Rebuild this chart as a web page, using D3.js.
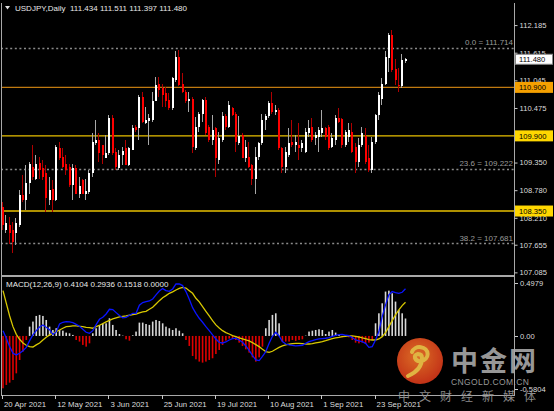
<!DOCTYPE html>
<html><head><meta charset="utf-8">
<script src="https://cdn.jsdelivr.net/npm/d3@7"></script>
<style>html,body{margin:0;padding:0;background:#000;}svg{display:block;}</style>
</head><body>
<svg id="c" width="554" height="411"></svg>
<script>
// ---- data (USDJPY daily, 20 Apr 2021 – 6 Oct 2021) ----
const open = [108.44,107.96,108.06,107.96,107.89,108.06,108.68,108.58,108.92,109.26,109.02,109.35,109.23,109.13,108.58,108.80,108.58,109.66,109.47,109.33,109.26,108.89,109.23,108.71,108.99,108.71,108.75,109.13,109.75,109.81,109.71,109.44,109.54,110.26,109.57,109.23,109.51,109.64,109.30,109.61,110.08,110.06,110.71,110.17,110.21,110.23,110.61,110.98,110.88,110.78,110.64,110.47,111.05,111.53,110.98,110.81,110.61,110.67,109.64,110.09,110.36,110.63,110.09,109.81,110.06,109.40,109.81,110.30,110.09,110.47,110.36,109.75,109.92,109.44,109.47,109.30,109.02,109.47,109.75,110.23,110.30,110.57,110.40,110.43,109.64,109.26,109.51,109.78,109.71,109.71,109.64,109.57,109.95,110.08,109.85,109.88,109.95,110.06,110.09,109.68,109.81,110.26,110.24,109.71,109.88,109.99,109.68,109.37,109.71,109.90,109.44,109.20,109.78,110.33,110.67,110.98,111.50,111.97,111.28,110.95,110.92,111.434];
const high = [108.54,108.27,108.23,108.13,108.20,108.78,109.09,109.30,109.37,109.71,109.51,109.47,109.40,109.30,109.06,108.99,109.71,109.78,109.64,109.51,109.33,109.33,109.30,109.06,109.02,109.02,109.20,109.95,110.23,109.95,109.71,109.92,110.33,110.33,109.64,109.61,109.68,109.81,109.68,110.12,110.12,110.74,110.81,110.50,110.36,110.81,111.12,111.12,110.98,110.91,110.78,111.12,111.66,111.67,111.19,110.85,110.81,110.71,110.28,110.40,110.67,110.71,110.12,110.33,110.09,109.99,110.40,110.36,110.61,110.50,110.40,110.30,109.95,109.81,109.78,109.33,109.68,109.78,110.36,110.36,110.61,110.81,110.54,110.47,109.68,109.68,110.06,110.23,109.92,110.16,109.81,110.06,110.23,110.26,109.99,110.09,110.43,110.09,110.12,109.95,110.33,110.47,110.26,110.02,110.16,110.16,109.75,109.85,110.09,110.06,109.71,109.88,110.36,110.81,111.09,111.64,112.03,112.08,111.48,111.30,111.58,111.511];
const low = [107.96,107.89,107.68,107.48,107.65,108.03,108.54,108.37,108.71,108.99,108.99,109.02,108.99,108.34,108.47,108.34,108.56,109.40,109.23,109.09,108.85,108.58,108.71,108.61,108.70,108.58,108.71,109.06,109.71,109.37,109.33,109.44,109.51,109.51,109.20,109.20,109.30,109.30,109.28,109.61,109.99,109.81,110.17,110.14,109.71,110.19,110.61,110.71,110.50,110.50,110.43,110.43,111.02,110.93,110.78,110.57,110.40,109.54,109.61,109.99,110.19,109.92,109.78,109.71,109.06,109.33,109.78,110.02,110.06,110.30,109.57,109.71,109.44,109.37,109.23,108.89,108.71,109.40,109.71,110.02,110.26,110.36,110.33,109.61,109.13,109.13,109.47,109.68,109.57,109.40,109.57,109.54,109.88,109.78,109.71,109.57,109.88,109.81,109.61,109.64,109.71,110.16,109.64,109.68,109.78,109.54,109.13,109.26,109.68,109.33,109.16,109.13,109.73,110.23,110.54,110.95,111.22,111.22,110.95,110.81,110.88,111.397];
const close = [108.06,108.10,107.89,107.72,108.10,108.68,108.58,108.92,109.33,109.06,109.33,109.20,109.06,108.61,108.78,108.58,109.68,109.44,109.26,109.20,108.89,109.23,108.71,108.87,108.71,108.77,109.13,109.78,109.81,109.54,109.51,109.54,110.26,109.54,109.26,109.51,109.59,109.30,109.64,110.06,110.02,110.71,110.19,110.23,110.26,110.61,110.95,110.85,110.74,110.61,110.47,111.09,111.53,110.95,110.81,110.61,110.67,109.68,110.09,110.36,110.64,109.95,109.81,110.02,109.44,109.85,110.30,110.09,110.54,110.33,109.78,109.90,109.44,109.68,109.26,109.02,109.47,109.75,110.23,110.30,110.57,110.40,110.43,109.64,109.26,109.57,109.75,109.71,109.78,109.64,109.75,109.99,110.06,109.81,109.92,110.02,110.06,109.88,109.64,109.85,110.26,110.19,109.71,109.99,110.02,109.57,109.37,109.71,109.95,109.37,109.20,109.78,110.33,110.74,110.98,111.53,111.97,111.26,111.05,110.92,111.46,111.480];
const macdMain = [0.046,-0.020,-0.093,-0.151,-0.165,-0.151,-0.128,-0.099,-0.041,0.009,0.046,0.078,0.096,0.075,0.055,0.014,0.035,0.104,0.119,0.125,0.122,0.116,0.101,0.084,0.058,0.032,0.023,0.046,0.099,0.145,0.162,0.191,0.232,0.229,0.203,0.177,0.157,0.162,0.180,0.197,0.197,0.267,0.290,0.299,0.304,0.322,0.357,0.391,0.412,0.394,0.388,0.409,0.452,0.452,0.438,0.386,0.319,0.246,0.197,0.154,0.119,0.081,0.046,0.009,-0.026,-0.055,-0.061,-0.052,-0.035,-0.023,-0.020,-0.035,-0.055,-0.087,-0.125,-0.168,-0.209,-0.214,-0.177,-0.136,-0.064,-0.003,0.032,0.000,-0.049,-0.070,-0.078,-0.081,-0.087,-0.084,-0.081,-0.064,-0.049,-0.041,-0.032,-0.026,-0.023,-0.020,-0.014,-0.003,0.006,0.012,0.014,0.006,0.003,-0.014,-0.035,-0.043,-0.049,-0.064,-0.099,-0.093,-0.035,0.038,0.168,0.270,0.357,0.386,0.377,0.371,0.380,0.4104];
const macdSignal = [0.394,0.284,0.174,0.081,0.014,-0.029,-0.061,-0.081,-0.093,-0.096,-0.078,-0.061,-0.035,-0.012,0.009,0.023,0.038,0.052,0.067,0.081,0.084,0.087,0.087,0.084,0.081,0.075,0.072,0.067,0.081,0.093,0.107,0.122,0.136,0.148,0.157,0.165,0.171,0.174,0.180,0.186,0.191,0.200,0.209,0.214,0.232,0.249,0.278,0.307,0.333,0.351,0.371,0.383,0.400,0.414,0.423,0.417,0.394,0.371,0.328,0.296,0.255,0.214,0.174,0.133,0.096,0.070,0.046,0.029,0.017,0.003,-0.006,-0.017,-0.026,-0.035,-0.043,-0.058,-0.075,-0.093,-0.116,-0.136,-0.142,-0.133,-0.116,-0.099,-0.087,-0.078,-0.072,-0.067,-0.064,-0.064,-0.067,-0.070,-0.070,-0.067,-0.061,-0.055,-0.049,-0.041,-0.032,-0.023,-0.017,-0.012,-0.006,-0.003,0.000,0.000,-0.003,-0.009,-0.017,-0.023,-0.032,-0.035,-0.035,-0.026,-0.006,0.029,0.081,0.133,0.183,0.226,0.264,0.2936];
const macdHist = [-0.455,-0.426,-0.406,-0.383,-0.325,-0.209,-0.136,-0.035,0.081,0.125,0.174,0.183,0.174,0.139,0.081,0.052,0.067,0.052,0.046,0.029,0.023,0.009,-0.035,-0.049,-0.078,-0.093,-0.064,0.023,0.067,0.096,0.110,0.110,0.154,0.096,0.052,0.017,0.003,-0.029,-0.041,0.006,0.038,0.116,0.116,0.104,0.096,0.125,0.139,0.130,0.110,0.081,0.067,0.052,0.067,0.046,0.023,-0.035,-0.087,-0.174,-0.203,-0.223,-0.232,-0.223,-0.209,-0.194,-0.157,-0.122,-0.078,-0.041,-0.023,-0.023,-0.035,-0.058,-0.087,-0.116,-0.145,-0.186,-0.223,-0.186,-0.093,0.067,0.139,0.183,0.197,0.110,-0.049,-0.049,-0.049,-0.035,-0.043,-0.035,-0.029,0.003,0.038,0.046,0.052,0.058,0.052,0.017,0.038,0.052,0.029,0.009,-0.012,0.006,-0.012,-0.035,-0.058,-0.064,-0.058,-0.070,-0.058,-0.035,0.110,0.197,0.284,0.386,0.394,0.371,0.299,0.226,0.197,0.1518];
const priceTicks = [112.185,111.615,111.045,110.475,109.350,108.780,108.210,107.655,107.085];
const levelValues = [110.900,109.900,108.350];
const levelColors = ["#c07a10","#e8c000","#e8c000"];
const levelBoxColors = ["#f5a000","#ffd700","#ffd700"];
const fibValues = [111.714,109.222,107.681];
const fibNames = ["0.0","23.6","38.2"];
const macdTicks = [0.4979,0.0,-0.5804];
const lastPrice = 111.480;
const dateTickEvery = 16;

// ---- layout ----
const svg = d3.select("#c");
const W = 554, H = 411;
const plotL = 1, plotR = 514;
const mainTop = 0, mainBot = 275;
const macdTop = 277, macdBot = 395;
const font = "'Liberation Sans', Arial, sans-serif";

svg.append("rect").attr("width", W).attr("height", H).attr("fill", "#000");

const n = close.length;
const dates = d3.utcDay.range(new Date(Date.UTC(2021,3,20)), new Date(Date.UTC(2021,9,7)))
  .filter(d => d.getUTCDay() !== 0 && d.getUTCDay() !== 6);
const idx = d3.range(n);

const x = d3.scaleLinear().domain([0, n - 1]).range([3, 405.5]);
const y = d3.scaleLinear().domain([107.085, 112.185]).range([272.37, 25.07]);
const ym = d3.scaleLinear().domain([-0.5804, 0.4979]).range([402.7, 278.7]);

const defs = svg.append("defs");
defs.append("clipPath").attr("id","clipMain").append("rect")
  .attr("x", plotL+1).attr("y", mainTop).attr("width", plotR-plotL-1).attr("height", mainBot-mainTop-1);
defs.append("clipPath").attr("id","clipMacd").append("rect")
  .attr("x", plotL+1).attr("y", macdTop+1).attr("width", plotR-plotL-1).attr("height", macdBot-macdTop-1);

// ---- main panel ----
const gMain = svg.append("g").attr("clip-path","url(#clipMain)");

gMain.selectAll("line.fib").data(fibValues).join("line")
  .attr("x1", plotL).attr("x2", plotR)
  .attr("y1", d => Math.round(y(d)) + 0.5).attr("y2", d => Math.round(y(d)) + 0.5)
  .attr("stroke", "#8a8a8a").attr("stroke-width", 1.3).attr("stroke-dasharray", "2,2.6");

gMain.selectAll("line.lvl").data(levelValues).join("line")
  .attr("x1", plotL).attr("x2", plotR)
  .attr("y1", d => y(d)).attr("y2", d => y(d))
  .attr("stroke", (d,i) => levelColors[i]).attr("stroke-width", 1.4);

const gC = gMain.append("g").attr("shape-rendering","crispEdges");
gC.selectAll("line.wick").data(idx).join("line")
  .attr("x1", i => Math.round(x(i)) - 0.5).attr("x2", i => Math.round(x(i)) - 0.5)
  .attr("y1", i => y(high[i])).attr("y2", i => y(low[i]))
  .attr("stroke", i => close[i] >= open[i] ? "#a8a8a8" : "#b00000").attr("stroke-width", 1);
gC.selectAll("rect.body").data(idx).join("rect")
  .attr("x", i => Math.round(x(i)) - 1).attr("width", 2)
  .attr("y", i => y(Math.max(open[i], close[i])))
  .attr("height", i => Math.max(1, Math.abs(y(open[i]) - y(close[i]))))
  .attr("fill", i => close[i] >= open[i] ? "#ffffff" : "#ff0000");

svg.selectAll("text.fib").data(fibValues).join("text")
  .attr("x", plotR - 1).attr("y", d => y(d) - 2.5)
  .attr("text-anchor", "end").attr("font-family", font).attr("font-size", 8)
  .attr("fill", "#9a9a9a")
  .text((d,i) => `${fibNames[i]} = ${d.toFixed(3)}`);

// ---- MACD panel ----
const gM = svg.append("g").attr("clip-path","url(#clipMacd)");
gM.append("g").selectAll("rect").data(idx).join("rect")
  .attr("x", i => x(i) - 0.8).attr("width", 1.6)
  .attr("y", i => Math.min(ym(0), ym(macdHist[i])))
  .attr("height", i => Math.abs(ym(macdHist[i]) - ym(0)))
  .attr("fill", i => macdHist[i] >= 0 ? "#d8d8d8" : "#e00000");
const line = arr => d3.line().x(i => x(i)).y(i => ym(arr[i])).curve(d3.curveLinear)(idx);
gM.append("path").attr("d", line(macdSignal)).attr("fill","none").attr("stroke","#d8c800").attr("stroke-width",1.3);
gM.append("path").attr("d", line(macdMain)).attr("fill","none").attr("stroke","#0a14ff").attr("stroke-width",1.3);

svg.append("text").attr("x", 6).attr("y", 287).attr("font-family", font).attr("font-size", 8)
  .attr("fill", "#e8e8e8").text(`MACD(12,26,9) ${macdMain[n-1].toFixed(4)} ${macdSignal[n-1].toFixed(4)} ${macdHist[n-1].toFixed(4)} 0.0000`);

// ---- frames ----
const frame = svg.append("g").attr("stroke", "#a8a8a8").attr("shape-rendering","crispEdges");
frame.append("line").attr("x1", 1.5).attr("x2", 1.5).attr("y1", 3).attr("y2", macdBot).attr("stroke-width", 1.5);
frame.append("line").attr("x1", plotR + 0.5).attr("x2", plotR + 0.5).attr("y1", 3).attr("y2", macdBot + 1);
frame.append("line").attr("x1", 1).attr("x2", plotR + 1).attr("y1", mainBot + 0.5).attr("y2", mainBot + 0.5).attr("stroke-width", 2);
frame.append("line").attr("x1", 1).attr("x2", plotR + 1).attr("y1", macdBot + 0.5).attr("y2", macdBot + 0.5);

// ---- price axis ----
const axisY = d3.axisRight(y).tickValues(priceTicks).tickFormat(d3.format(".3f")).tickSize(3).tickPadding(2);
const ga = svg.append("g").attr("transform", `translate(${plotR + 0.5},0)`).call(axisY);
ga.select(".domain").remove();
ga.selectAll("line").attr("stroke", "#c8c8c8");
ga.selectAll("text").attr("fill", "#dcdcdc").attr("font-family", font).attr("font-size", 7.6);

const boxes = svg.selectAll("g.box").data(levelValues).join("g").attr("transform", d => `translate(${plotR + 1},${y(d)})`);
boxes.append("rect").attr("x", 0).attr("y", -5.5).attr("width", 38).attr("height", 11)
  .attr("fill", (d,i) => levelBoxColors[i]);
boxes.append("text").attr("x", 4).attr("y", 3).attr("font-family", font).attr("font-size", 7.6)
  .attr("fill", "#000").text(d => d.toFixed(3));
const lp = svg.append("g").attr("transform", `translate(${plotR + 1},${y(lastPrice)})`);
lp.append("rect").attr("x", 0.5).attr("y", -5).attr("width", 37).attr("height", 10)
  .attr("fill", "#fff").attr("stroke", "#888");
lp.append("text").attr("x", 4).attr("y", 3).attr("font-family", font).attr("font-size", 7.6)
  .attr("fill", "#000").text(lastPrice.toFixed(3));

// ---- MACD axis ----
const macdPos = d => Math.max(macdTop + 6, Math.min(macdBot - 6, ym(d)));
const gm = svg.append("g");
gm.selectAll("line").data(macdTicks).join("line")
  .attr("x1", plotR + 1).attr("x2", plotR + 4).attr("y1", d => Math.round(macdPos(d)) + 0.5).attr("y2", d => Math.round(macdPos(d)) + 0.5)
  .attr("stroke", "#c8c8c8");
gm.selectAll("text").data(macdTicks).join("text")
  .attr("x", plotR + 6).attr("y", d => macdPos(d) + 2.8)
  .attr("font-family", font).attr("font-size", 7.6).attr("fill", "#dcdcdc")
  .text(d => d === 0 ? "0.00" : d.toFixed(4));

// ---- date axis ----
const fmt = d3.utcFormat("%-d %b %Y");
const tickIdx = idx.filter(i => i % dateTickEvery === 0);
const gx = svg.append("g");
gx.selectAll("line").data(tickIdx).join("line")
  .attr("x1", i => Math.round(x(i)) - 0.5).attr("x2", i => Math.round(x(i)) - 0.5)
  .attr("y1", macdBot).attr("y2", macdBot + 4).attr("stroke", "#c8c8c8");
gx.selectAll("text").data(tickIdx).join("text")
  .attr("x", i => x(i) + 1).attr("y", 407)
  .attr("font-family", font).attr("font-size", 7.8).attr("fill", "#dcdcdc")
  .text(i => fmt(dates[i]));

// ---- title ----
svg.append("path").attr("d", "M5,6 L10,6 L7.5,9.5 Z").attr("fill", "#e0e0e0");
svg.append("text").attr("x", 15).attr("y", 11).attr("font-family", font).attr("font-size", 8)
  .attr("fill", "#e8e8e8").attr("xml:space","preserve")
  .text(`USDJPY,Daily  ${open[n-1].toFixed(3)} ${high[n-1].toFixed(3)} ${low[n-1].toFixed(3)} ${close[n-1].toFixed(3)}`);

// ---- watermark ----
const wm = svg.append("g").attr("opacity", 0.9);
const grad = defs.append("radialGradient").attr("id","lg").attr("cx","45%").attr("cy","40%").attr("r","60%");
grad.append("stop").attr("offset","0%").attr("stop-color","#f47a2a");
grad.append("stop").attr("offset","100%").attr("stop-color","#d8381a");
wm.append("circle").attr("cx", 420).attr("cy", 361).attr("r", 23).attr("fill", "url(#lg)");
wm.append("path").attr("d", "M412,352 a8,7 0 1,1 9,9 q-4,1 -6,-3 q-1,-3 3,-4 q4,0 4,4 q0,12 -14,18")
  .attr("fill","none").attr("stroke","#f8c84a").attr("stroke-width",4).attr("stroke-linecap","round");
wm.append("text").attr("x", 451).attr("y", 371).attr("font-family", "'Noto Sans CJK SC'").attr("font-weight", 700)
  .attr("font-size", 27).attr("fill", "#a8a8a8").attr("letter-spacing", 2).text("中金网");
wm.append("text").attr("x", 451).attr("y", 385).attr("font-family", font)
  .attr("font-size", 8.5).attr("fill", "#a8a8a8").attr("letter-spacing", 0.4).text("CNGOLD.COM.CN");
wm.append("text").attr("x", 398).attr("y", 401).attr("font-family", "'Noto Sans CJK SC'")
  .attr("font-size", 12).attr("fill", "#9a9a9a").attr("letter-spacing", 9).text("中文财经新媒体");
</script>
</body></html>
